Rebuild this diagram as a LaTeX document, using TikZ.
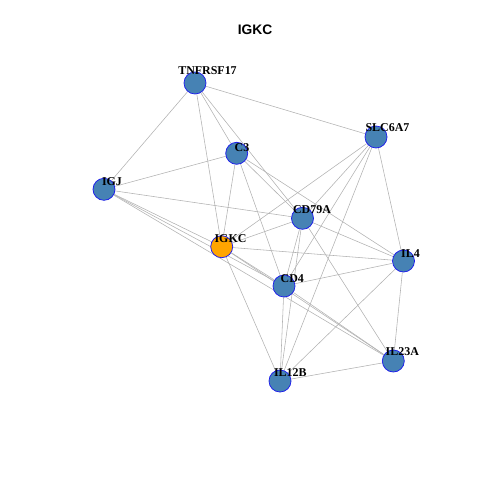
\documentclass[tikz,border=0pt]{standalone}
\usepackage{fontspec}
\setmainfont{Liberation Serif}
\newfontfamily\titlefont{Liberation Sans}
\usepackage{xcolor}
\usepackage{tikz}
\usetikzlibrary{backgrounds}
\definecolor{steel}{RGB}{70,130,180}
\definecolor{rim}{RGB}{30,30,235}
\definecolor{hubfill}{RGB}{255,165,0}
\definecolor{wire}{RGB}{178,178,178}
\tikzset{
    gene/.style={circle,draw=rim,line width=0.55pt,fill=steel,minimum size=0.55cm,inner sep=0pt},
    hub/.style={gene,fill=hubfill},
    tag/.style={font=\fontsize{8.5}{9}\selectfont\bfseries,inner sep=0pt},
    link/.style={draw=wire,line width=0.4pt},
}

\begin{document}
\begin{tikzpicture}[x=0.025cm,y=-0.025cm]
\useasboundingbox (0,0) rectangle (480,480);
\node[font=\titlefont\fontsize{9.8}{11}\selectfont\bfseries] (title) at (255,30) {IGKC};

% genes
\node[gene] (tnfrsf17) at (195,83) {};
\node[gene] (c3) at (236.7,153.3) {};
\node[gene] (slc6a7) at (376,137) {};
\node[gene] (igj) at (104,189.3) {};
\node[gene] (cd79a) at (302.5,218.3) {};
\node[hub]  (igkc) at (221.7,246.7) {};
\node[gene] (il4) at (403.5,261) {};
\node[gene] (cd4) at (284,286) {};
\node[gene] (il23a) at (393.3,361) {};
\node[gene] (il12b) at (280,381) {};

% labels
\node[tag] (tnfrsf17-l) at (207.5,70.5) {TNFRSF17};
\node[tag] (c3-l) at (242,148) {C3};
\node[tag] (slc6a7-l) at (387.5,127.5) {SLC6A7};
\node[tag] (igj-l) at (112,182) {IGJ};
\node[tag] (cd79a-l) at (312,209.5) {CD79A};
\node[tag] (igkc-l) at (230.5,239) {IGKC};
\node[tag] (il4-l) at (410.5,254) {IL4};
\node[tag] (cd4-l) at (292.3,279) {CD4};
\node[tag] (il23a-l) at (402.3,352) {IL23A};
\node[tag] (il12b-l) at (290.3,373) {IL12B};

% interactions
\begin{scope}[on background layer]
\draw[link] (tnfrsf17) -- (igj);
\draw[link] (tnfrsf17) -- (slc6a7);
\draw[link] (tnfrsf17) -- (igkc);
\draw[link] (tnfrsf17) -- (c3);
\draw[link] (tnfrsf17) -- (cd79a);
\draw[link] (c3) -- (igj);
\draw[link] (c3) -- (igkc);
\draw[link] (c3) -- (cd4);
\draw[link] (c3) -- (cd79a);
\draw[link] (c3) -- (il4);
\draw[link] (slc6a7) -- (igkc);
\draw[link] (slc6a7) -- (cd79a);
\draw[link] (slc6a7) -- (cd4);
\draw[link] (slc6a7) -- (il12b);
\draw[link] (slc6a7) -- (il4);
\draw[link] (igj) -- (cd79a);
\draw[link] (igj) -- (igkc);
\draw[link] (igj) -- (cd4);
\draw[link] (igj) -- (il23a);
\draw[link] (igkc) -- (cd79a);
\draw[link] (igkc) -- (il4);
\draw[link] (igkc) -- (cd4);
\draw[link] (igkc) -- (il12b);
\draw[link] (igkc) -- (il23a);
\draw[link] (cd79a) -- (il4);
\draw[link] (cd79a) -- (cd4);
\draw[link] (cd79a) -- (il12b);
\draw[link] (cd79a) -- (il23a);
\draw[link] (cd4) -- (il4);
\draw[link] (cd4) -- (il12b);
\draw[link] (cd4) -- (il23a);
\draw[link] (il4) -- (il12b);
\draw[link] (il4) -- (il23a);
\draw[link] (il12b) -- (il23a);
\end{scope}
\end{tikzpicture}
\end{document}
